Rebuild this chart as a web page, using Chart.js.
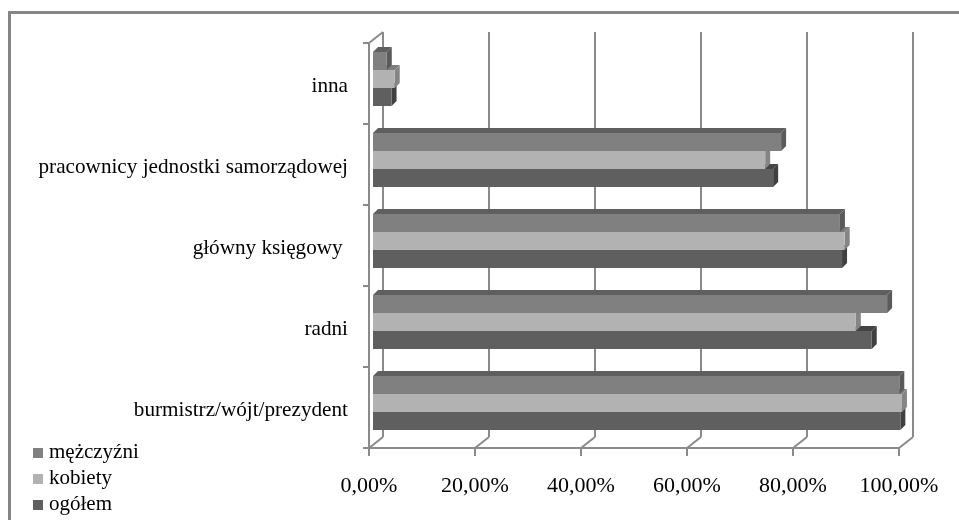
<!DOCTYPE html>
<html>
<head>
<meta charset="utf-8">
<style>
  html, body { margin: 0; background: #fff; }
  #box { width: 959px; height: 520px; }
  canvas { filter: blur(0.45px); }
</style>
<script src="https://cdn.jsdelivr.net/npm/chart.js@4"></script>
</head>
<body>
<div id="box"><canvas id="chartCanvas"></canvas></div>
<script>
const categories = ["inna", "pracownicy jednostki samorządowej", "główny księgowy ", "radni", "burmistrz/wójt/prezydent"];
const mezczyzni = [2.6, 77, 88.1, 97, 99.3];
const kobiety = [4.1, 74, 89, 91.1, 99.8];
const ogolem = [3.5, 75.5, 88.5, 94.1, 99.5];

const FONT = "'Liberation Serif', serif";
const AXIS = "#8a8a8a";
// glebokosc slupka i przesuniecia scian 3D
const BAR_DX = 5, BAR_DY = 5;
const FRONT_DX = -4, FRONT_DY = 4.5;
const BACK_DX = 10, BACK_DY = -6.5;

function line(ctx, x1, y1, x2, y2) {
  ctx.beginPath();
  ctx.moveTo(x1, y1);
  ctx.lineTo(x2, y2);
  ctx.stroke();
}

function poly(ctx, pts, color) {
  ctx.fillStyle = color;
  ctx.beginPath();
  pts.forEach((p, i) => (i ? ctx.lineTo(p[0], p[1]) : ctx.moveTo(p[0], p[1])));
  ctx.closePath();
  ctx.fill();
}

// kwadracik legendy
function swatch(color) {
  const c = document.createElement("canvas");
  c.width = 10;
  c.height = 10;
  const g = c.getContext("2d");
  g.fillStyle = color;
  g.fillRect(0, 0, 10, 10);
  return c;
}

// Sciany wykresu, ramka i boki slupkow
const wall3d = {
  id: "wall3d",
  beforeDatasetsDraw(chart) {
    const { ctx, scales } = chart;
    const x = scales.x, y = scales.y;
    const frontB = y.bottom + FRONT_DY, frontT = y.top + FRONT_DY;
    const backB = y.bottom + BACK_DY, backT = y.top + BACK_DY;
    ctx.save();
    // ramka: tylko gora i lewa strona
    ctx.strokeStyle = "#858585";
    ctx.lineWidth = 3;
    line(ctx, 9.5, 520, 9.5, 12.5);
    line(ctx, 8, 12.5, 959, 12.5);
    ctx.strokeStyle = AXIS;
    ctx.lineWidth = 2;
    x.ticks.forEach((t) => {
      const px = x.getPixelForValue(t.value);
      line(ctx, px + BACK_DX, backT, px + BACK_DX, backB);
      line(ctx, px + BACK_DX, backB, px + FRONT_DX, frontB);
      line(ctx, px + FRONT_DX, frontB, px + FRONT_DX, frontB + 8);
    });
    const x0 = x.left + FRONT_DX;
    line(ctx, x0, frontB, x.right + FRONT_DX, frontB);
    line(ctx, x0, frontT, x0, frontB + 8);
    line(ctx, x0, frontT, x.left + BACK_DX, backT);
    const band = (y.bottom - y.top) / categories.length;
    for (let i = 0; i <= categories.length; i++) {
      const py = y.top + i * band + FRONT_DY;
      line(ctx, x0 - 6, py, x0, py);
    }
    ctx.restore();
  },
  beforeDatasetDraw(chart, args) {
    const { ctx } = chart;
    const ds = chart.data.datasets[args.index];
    args.meta.data.forEach((bar) => {
      const p = bar.getProps(["x", "y", "base", "height"], true);
      const top = p.y - p.height / 2, bot = p.y + p.height / 2;
      poly(ctx, [[p.base, top], [p.base + BAR_DX, top - BAR_DY], [p.x + BAR_DX, top - BAR_DY], [p.x, top]], ds.topColor);
      poly(ctx, [[p.x, top], [p.x + BAR_DX, top - BAR_DY], [p.x + BAR_DX, bot - BAR_DY], [p.x, bot]], ds.sideColor);
    });
  },
  afterLayout(chart) {
    // legenda w lewym dolnym rogu
    const l = chart.legend;
    const w = l.right - l.left, h = l.bottom - l.top;
    l.left = 32.5; l.right = l.left + w;
    l.top = 437; l.bottom = l.top + h;
  },
};

new Chart(document.getElementById("chartCanvas"), {
  type: "bar",
  data: {
    labels: categories,
    datasets: [
      { label: "mężczyźni", data: mezczyzni, backgroundColor: "#808080", topColor: "#5f5f5f", sideColor: "#5a5a5a" },
      { label: "kobiety", data: kobiety, backgroundColor: "#b2b2b2", topColor: "#7d7d7d", sideColor: "#858585" },
      { label: "ogółem", data: ogolem, backgroundColor: "#5f5f5f", topColor: "#444444", sideColor: "#404040" },
    ],
  },
  plugins: [wall3d],
  options: {
    indexAxis: "y",
    responsive: true,
    maintainAspectRatio: false,
    animation: false,
    layout: { padding: { top: 38.5, right: 56, bottom: 0, left: 0 } },
    datasets: { bar: { categoryPercentage: 54 / 81, barPercentage: 1, borderWidth: 0 } },
    plugins: {
      tooltip: { enabled: false },
      legend: {
        position: "chartArea",
        align: "start",
        labels: {
          usePointStyle: true,
          pointStyleWidth: 1,
          boxHeight: 10,
          padding: 5,
          color: "#000",
          font: { family: FONT, size: 21 },
          generateLabels: (chart) =>
            Chart.defaults.plugins.legend.labels.generateLabels(chart).map((item) => ({
              ...item,
              pointStyle: swatch(item.fillStyle),
            })),
        },
      },
    },
    scales: {
      x: {
        min: 0,
        max: 100,
        afterFit: (s) => { s.height = 76.5; s.paddingLeft = 0; s.paddingRight = 0; },
        grid: { display: false },
        border: { display: false },
        ticks: {
          stepSize: 20,
          maxRotation: 0,
          labelOffset: -4,
          padding: 22,
          color: "#000",
          font: { family: FONT, size: 22 },
          callback: (v) => v.toFixed(2).replace(".", ",") + "%",
        },
      },
      y: {
        afterFit: (s) => { s.width = 373; },
        grid: { display: false },
        border: { display: false },
        ticks: {
          padding: 17,
          labelOffset: 7.5,
          color: "#000",
          font: { family: FONT, size: 21.2 },
        },
      },
    },
  },
});
</script>
</body>
</html>
